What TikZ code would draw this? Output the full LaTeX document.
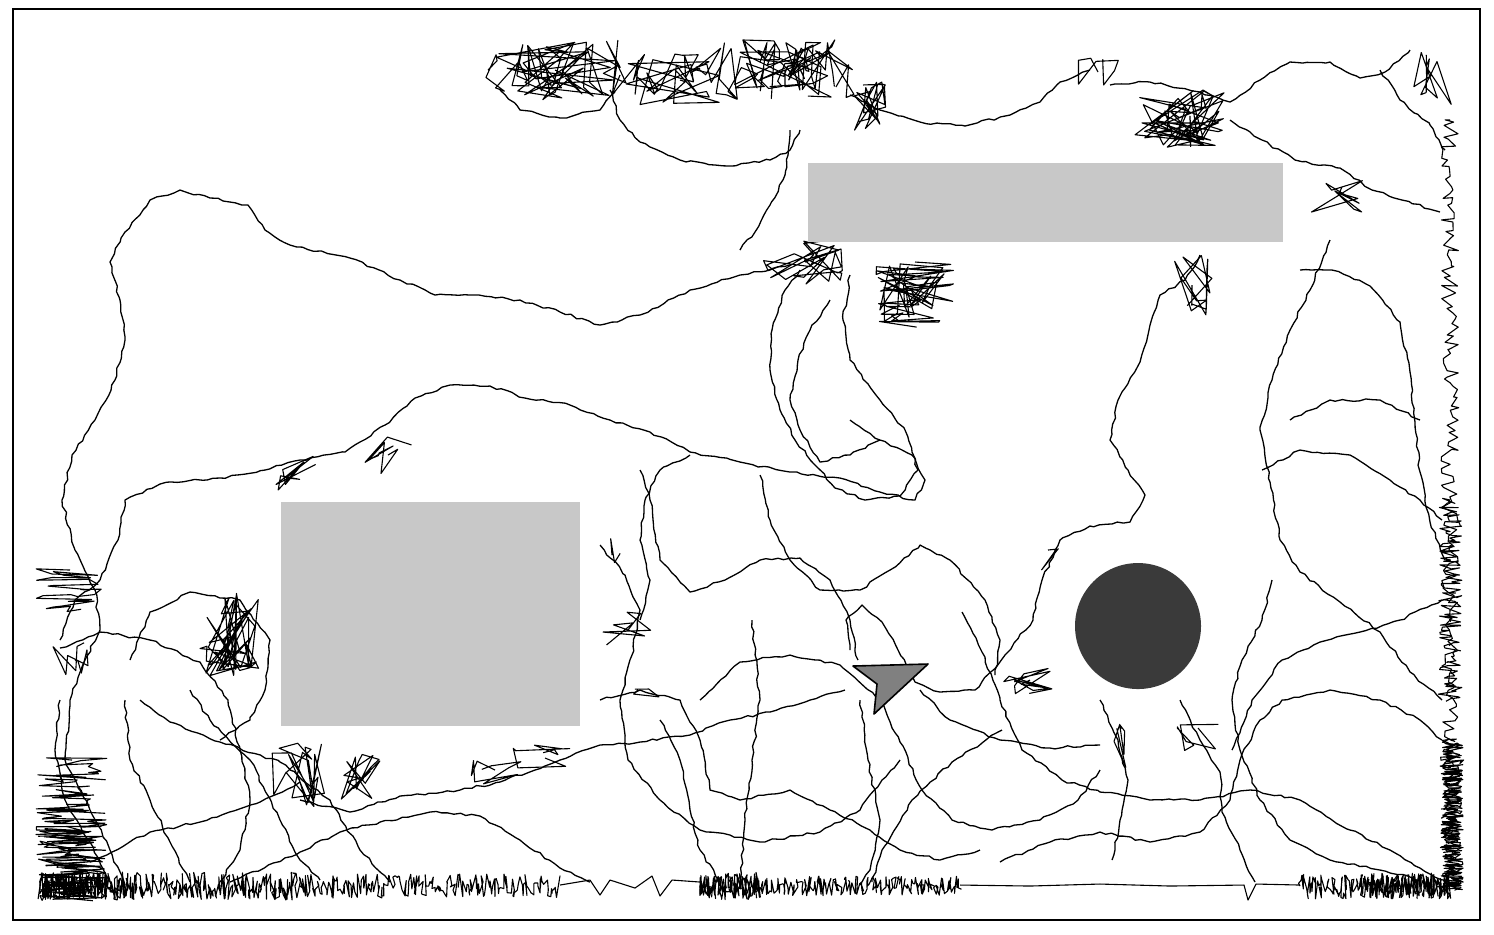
\documentclass[tikz,border=0pt]{standalone}
\usetikzlibrary{decorations.pathmorphing}
\definecolor{obst}{HTML}{C8C8C8}
\definecolor{disk}{HTML}{3A3A3A}
\definecolor{robotc}{HTML}{808080}
\tikzset{
  traj/.style={line width=0.13pt, line join=round, black},
  thin/.style={line width=0.11pt, line join=round, black},
  wob/.style={decorate, decoration={random steps, segment length=0.6pt, amplitude=0.13pt}},
  frame/.style={line width=0.18pt},
  obstacle/.style={fill=obst, draw=none},
}
\newcommand{\crv}[1]{\draw[traj,wob] plot coordinates {#1};}
% random cluster: cx cy wx wy n seed
\newcommand{\scrib}[6]{\pgfmathsetseed{#6}\draw[thin] (#1,#2) \foreach \i in {1,...,#5}{ -- ({#1+#3*rand},{#2+#4*rand}) };}
% horizontal zigzag band: x0 x1 ymid yamp xjit step seed
\newcommand{\hzig}[7]{\pgfmathsetseed{#7}\pgfmathsetmacro\zsec{#1+#6}\draw[thin] (#1,#3) \foreach \x in {#1,\zsec,...,#2}{ -- ({\x+#5*rand},{#3+#4*rand}) };}
% vertical zigzag band: y0 y1 xmid xamp yjit step seed
\newcommand{\vzig}[7]{\pgfmathsetseed{#7}\pgfmathsetmacro\zsec{#1+#6}\draw[thin] (#3,#1) \foreach \y in {#1,\zsec,...,#2}{ -- ({#3+#4*rand},{\y+#5*rand}) };}
\begin{document}
\begin{tikzpicture}[x=0.1pt,y=-0.1pt]
\useasboundingbox (0,0) rectangle (1494,934);
\fill[white] (0,0) rectangle (1494,934);
\pgfmathsetseed{7}
% ---------- long trajectories ----------
\crv{(790,265) (740,275) (690,290) (640,315) (600,325) (560,312) (520,300) (470,295) (435,295) (400,280) (350,258) (290,245) (265,230) (248,205) (210,198) (180,190) (150,200) (125,232) (110,262) (120,300) (125,340) (115,380) (95,420) (72,455) (62,500) (75,550) (95,590) (100,630) (85,660) (70,700) (65,760) (90,810) (110,850) (125,885)}
\crv{(60,640) (75,600) (100,580) (118,540) (125,500) (160,484) (220,478) (265,470) (300,460) (345,452) (385,425) (415,398) (450,385) (490,386) (525,398) (570,405) (610,420) (650,432) (690,452) (740,462) (790,472) (840,478) (880,492) (915,500) (925,480) (912,455) (880,440) (850,420)}
\crv{(850,275) (843,320) (850,360) (880,400) (905,430) (918,470) (900,496) (865,500) (835,488) (815,465) (795,440) (780,410) (770,370) (772,330) (785,290) (800,270)}
\crv{(880,440) (850,455) (820,462) (800,430) (790,400) (798,360) (810,330) (830,300)}
\crv{(1200,255) (1185,280) (1160,295) (1150,325) (1140,362) (1118,400) (1110,440) (1128,470) (1145,495) (1130,522) (1090,526) (1060,540) (1042,580) (1033,620) (1005,655) (975,690) (940,692) (915,682) (898,650) (882,622) (862,605) (846,620) (850,650)}
\crv{(640,470) (650,500) (660,560) (690,592) (725,580) (760,560) (800,558) (830,580) (850,620) (858,660)}
\crv{(690,455) (660,470) (645,500) (640,540) (650,580) (640,620)}
\crv{(600,545) (625,575) (640,610) (632,655) (620,700) (628,760) (660,800) (700,830) (760,842) (820,832) (860,810) (882,780) (900,760)}
\crv{(700,700) (740,662) (790,655) (840,665) (880,700) (900,742) (922,790) (952,820) (992,830) (1040,820) (1078,800) (1100,770)}
\crv{(760,475) (770,520) (790,560) (820,590) (860,590) (890,570) (920,545) (950,560) (985,600) (1000,640) (995,675)}
\crv{(660,720) (680,760) (690,810) (700,850) (720,882)}
\crv{(752,620) (760,700) (752,760) (745,820) (740,882)}
\crv{(860,700) (868,760) (880,820) (870,870) (860,885)}
\crv{(962,612) (982,652) (1000,700) (1022,750) (1062,780) (1100,792) (1150,800) (1200,800) (1250,790) (1300,800) (1350,830) (1390,850) (1420,868) (1442,880)}
\crv{(1002,730) (952,762) (912,800) (882,850) (872,882)}
\crv{(1100,700) (1118,740) (1128,780) (1120,820) (1112,860)}
\crv{(1180,700) (1200,740) (1220,772) (1222,812) (1240,850) (1255,882)}
\crv{(1000,862) (1050,842) (1100,832) (1150,842) (1200,832) (1230,800) (1240,760) (1260,720) (1282,700) (1330,690) (1380,700) (1420,720) (1442,740)}
\crv{(920,690) (950,720) (1000,740) (1050,748) (1100,745)}
\crv{(560,760) (600,745) (640,742) (690,735) (730,720) (770,712) (810,700) (845,690)}
\crv{(600,700) (640,690) (680,700) (700,740) (710,790) (740,800) (790,790) (830,810) (870,830) (900,850) (940,860) (980,850)}
% left region
\crv{(60,648) (100,632) (150,640) (200,662) (228,700) (240,750) (250,800) (240,850) (220,882)}
\crv{(130,660) (150,612) (190,592) (240,600) (270,640) (265,690) (250,720) (220,740)}
\crv{(60,700) (55,750) (65,800) (90,842) (110,882)}
\crv{(125,700) (130,760) (150,800) (170,842) (190,882)}
\crv{(140,700) (170,722) (220,742) (280,762) (330,800) (360,850) (390,882)}
\crv{(90,862) (150,832) (200,822) (260,802) (300,782)}
\crv{(190,690) (210,720) (250,760) (280,820) (300,860) (320,880)}
\crv{(300,800) (350,812) (400,796) (460,790) (500,782) (560,760)}
\crv{(230,882) (300,852) (340,832) (380,822) (430,812) (480,816) (520,840) (560,868) (590,882)}
% top region
\crv{(500,90) (520,110) (560,118) (600,110) (615,92)}
\crv{(610,90) (620,120) (640,142) (680,160) (730,166) (770,160) (790,150) (800,130)}
\crv{(790,130) (785,175) (770,205) (755,232) (740,250)}
\crv{(850,95) (880,110) (920,122) (965,126) (1010,115) (1040,102) (1060,82) (1090,70)}
\crv{(1110,85) (1150,82) (1200,92) (1230,102) (1260,80) (1290,62) (1330,62) (1360,78) (1385,72) (1410,50)}
\crv{(1230,120) (1262,140) (1295,160) (1340,168) (1372,190) (1402,200) (1440,212)}
\crv{(1380,70) (1400,100) (1430,125) (1445,150)}
% right region
\crv{(1300,270) (1332,270) (1370,286) (1400,322) (1410,372) (1415,422) (1420,472) (1430,522) (1445,560)}
\crv{(1330,240) (1310,290) (1290,330) (1272,380) (1260,430) (1270,482) (1280,540) (1300,572) (1340,602) (1380,632) (1410,672) (1442,700)}
\crv{(1262,470) (1300,450) (1350,455) (1390,480) (1420,500) (1442,520)}
\crv{(1272,580) (1262,620) (1242,660) (1232,700) (1240,750) (1260,800) (1290,840) (1330,860) (1380,870) (1420,880)}
\crv{(1442,600) (1400,620) (1360,632) (1320,642) (1282,660) (1252,700) (1232,750)}
\crv{(1290,420) (1330,400) (1380,400) (1420,420)}
% ---------- scribble clusters ----------
\hzig{488}{620}{70}{30}{22}{3}{11}
\scrib{555}{70}{60}{30}{30}{41}
\hzig{620}{700}{75}{22}{20}{5}{12}
\scrib{680}{80}{60}{25}{20}{42}
\hzig{700}{850}{68}{32}{18}{3}{13}
\hzig{760}{830}{62}{30}{10}{3}{14}
\scrib{785}{70}{55}{30}{30}{43}
\scrib{870}{108}{16}{28}{25}{15}
\scrib{1180}{118}{45}{30}{60}{16}
\scrib{1098}{72}{25}{14}{8}{17}
\vzig{262}{330}{915}{40}{10}{2}{18}
\scrib{915}{295}{38}{34}{30}{44}
\scrib{805}{262}{42}{22}{30}{19}
\scrib{1192}{285}{22}{30}{16}{20}
\scrib{1340}{195}{30}{18}{12}{21}
\scrib{1432}{75}{20}{30}{12}{22}
\vzig{570}{612}{70}{34}{3}{1.5}{23}
\scrib{230}{632}{30}{45}{50}{24}
\scrib{75}{660}{28}{18}{10}{25}
\vzig{760}{900}{72}{36}{3}{1.2}{26}
\vzig{820}{900}{72}{34}{3}{1}{27}
\scrib{298}{468}{22}{22}{10}{45}
\scrib{388}{455}{25}{20}{10}{28}
\scrib{298}{775}{28}{32}{25}{29}
\scrib{360}{778}{25}{25}{18}{30}
\scrib{495}{770}{30}{14}{10}{31}
\scrib{545}{758}{35}{14}{10}{32}
\scrib{628}{630}{25}{18}{8}{33}
\scrib{1030}{680}{28}{14}{16}{34}
\scrib{1120}{742}{8}{28}{8}{35}
\scrib{1198}{728}{22}{28}{8}{36}
\scrib{1048}{550}{12}{25}{3}{37}
\scrib{612}{555}{12}{20}{3}{38}
\scrib{638}{690}{22}{10}{4}{39}
% ---------- wall contacts ----------
\hzig{40}{300}{886}{14}{2}{0.8}{101}
\hzig{40}{130}{886}{14}{2}{0.6}{102}
\hzig{300}{560}{886}{12}{2}{1.2}{103}
\draw[thin] (560,885) -- (590,880) -- (600,895) -- (610,880) -- (635,888) -- (652,876) -- (660,896) -- (672,880) -- (700,882);
\hzig{700}{960}{886}{10}{2}{1}{104}
\hzig{700}{760}{886}{14}{2}{0.6}{105}
\draw[thin] (960,885) -- (1030,886) -- (1100,884) -- (1170,886) -- (1244,885) -- (1248,900) -- (1256,884) -- (1300,885);
\hzig{1300}{1450}{886}{13}{2}{0.8}{106}
\hzig{1360}{1450}{886}{13}{2}{0.6}{107}
\vzig{740}{890}{1452}{12}{2}{0.6}{108}
\vzig{740}{890}{1452}{10}{2}{0.8}{109}
\vzig{120}{740}{1450}{9}{3}{4}{110}
\vzig{500}{700}{1450}{12}{2}{1.5}{111}
% ---------- obstacles ----------
\fill[obstacle] (808,163) rectangle (1283,242);
\fill[obstacle] (281,502) rectangle (580,726);
\fill[disk] (1138,626) circle (63);
% ---------- robot ----------
\draw[line width=0.16pt, fill=robotc, line join=round] (853,666) -- (928,664) -- (874,714) -- (877,684) -- cycle;
% ---------- frame ----------
\draw[frame] (13,9) rectangle (1480,920);
\end{tikzpicture}
\end{document}
